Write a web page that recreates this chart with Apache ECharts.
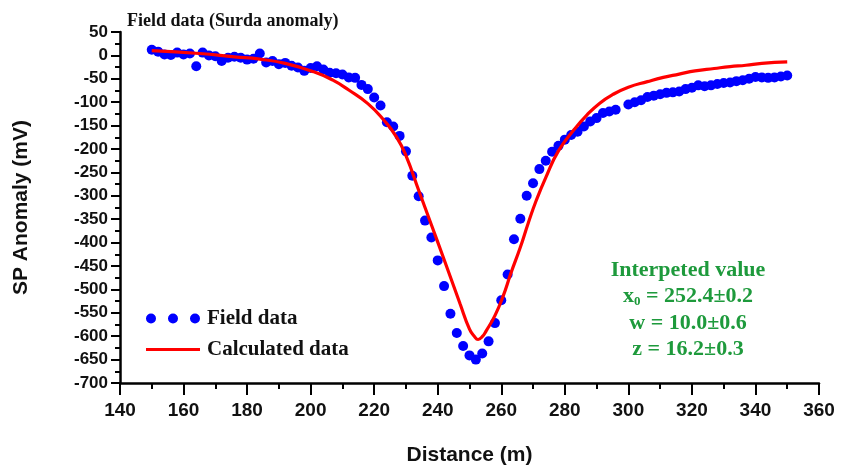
<!DOCTYPE html>
<html>
<head>
<meta charset="utf-8">
<script src="https://cdn.jsdelivr.net/npm/echarts@6/dist/echarts.min.js"></script>
<style>html,body{margin:0;padding:0;background:#fff}#c{width:843px;height:473px}</style>
</head>
<body>
<div id="c"></div>
<script>
// Field data (Surda anomaly)
const fieldX = [150,152,154,156,158,160,162,164,166,168,170,172,174,176,178,180,182,184,186,188,
  190,192,194,196,198,200,202,204,206,208,210,212,214,216,218,220,222,224,226,228,
  230,232,234,236,238,240,242,244,246,248,250,252,254,256,258,260,262,264,266,268,
  270,272,274,276,278,280,282,284,286,288,290,292,294,296,300,302,304,306,308,310,
  312,314,316,318,320,322,324,326,328,330,332,334,336,338,340,342,344,346,348,350];
const fieldY = [12,8,2,1,6,2,4,-23,6,0,-2,-12,-5,-3,-5,-9,-7,4,-15,-12,
  -19,-16,-22,-26,-33,-27,-23,-30,-37,-38,-41,-47,-48,-63,-72,-90,-107,-143,-152,-172,
  -205,-257,-301,-353,-389,-438,-493,-552,-593,-621,-641,-650,-637,-611,-572,-523,-468,-393,-349,-300,
  -273,-243,-225,-206,-193,-180,-170,-163,-152,-141,-134,-123,-120,-116,-105,-100,-96,-89,-86,-83,
  -80,-79,-77,-72,-69,-64,-66,-64,-61,-59,-58,-55,-53,-50,-46,-47,-48,-47,-45,-43];
// Calculated data
const calcX = [150,165,176,184,192,201,207,212,218,223,227,230,234,238,242,247,250,251.5,252.7,254,
  255.3,258,260.5,263,266,268.5,271,274,278,283,287,291,295,300,306,311,316,321,327,332,337,342,350];
const calcY = [10,4,-3,-8,-17,-35,-53,-74,-103,-138,-174,-214,-288,-362,-436,-530,-585,-600,-607,-601,
  -588,-556,-516,-466,-410,-358,-310,-261,-204,-158,-127,-102,-84,-68,-56,-47,-40,-33,-28,-24,-21,-17,-14];
const xTicks = {min:140, max:360, interval:20};
const yTicks = {min:-700, max:50, interval:50};
const infoLines = ['Interpeted value','x{s|0} = 252.4±0.2','w = 10.0±0.6','z = 16.2±0.3'];

const chart = echarts.init(document.getElementById('c'));
const sans = 'Liberation Sans, Arial, sans-serif';
const serif = 'Liberation Serif, Times New Roman, serif';
const green = '#1e9a3c';
const dotsIcon = 'path://M0,5a5,5 0 1,0 10,0a5,5 0 1,0 -10,0ZM22,5a5,5 0 1,0 10,0a5,5 0 1,0 -10,0ZM44,5a5,5 0 1,0 10,0a5,5 0 1,0 -10,0Z';
const lineIcon = 'path://M0,0h54v3h-54Z';
const tys = [270,296,323,349];
chart.setOption({
  animation:false,
  title:{text:'Field data (Surda anomaly)', left:122, top:7,
    textStyle:{fontFamily:serif, fontWeight:'bold', fontSize:18, color:'#111'}},
  grid:{left:120, right:24, top:32, bottom:90, containLabel:false},
  legend:{orient:'vertical', left:141, top:303, itemGap:10, itemWidth:54, itemHeight:10,
    textStyle:{fontFamily:serif, fontWeight:'bold', fontSize:21, color:'#111', padding:[0,0,0,2]},
    data:[{name:'Field data', icon:dotsIcon},{name:'Calculated data', icon:lineIcon, itemStyle:{color:'#ff0000'}}]},
  xAxis:{type:'value', min:xTicks.min, max:xTicks.max, interval:xTicks.interval,
    name:'Distance (m)', nameLocation:'middle', nameGap:62,
    nameTextStyle:{fontFamily:sans, fontWeight:'bold', fontSize:21, color:'#111'},
    axisLine:{onZero:false, lineStyle:{color:'#000', width:2.5}},
    axisTick:{inside:false, length:12, lineStyle:{color:'#000', width:2}},
    minorTick:{show:true, splitNumber:2, length:6, lineStyle:{color:'#000', width:2}},
    axisLabel:{margin:18, fontFamily:sans, fontWeight:'bold', fontSize:19, color:'#111'},
    splitLine:{show:false}},
  yAxis:{type:'value', min:yTicks.min, max:yTicks.max, interval:yTicks.interval,
    name:'SP Anomaly (mV)', nameLocation:'middle', nameGap:88, nameRotate:90,
    nameTextStyle:{fontFamily:sans, fontWeight:'bold', fontSize:21, color:'#111'},
    axisLine:{onZero:false, lineStyle:{color:'#000', width:2.5}},
    axisTick:{inside:false, length:9, lineStyle:{color:'#000', width:2}},
    minorTick:{show:true, splitNumber:2, length:5, lineStyle:{color:'#000', width:2}},
    axisLabel:{margin:12, fontFamily:sans, fontWeight:'bold', fontSize:17, color:'#111'},
    splitLine:{show:false}},
  graphic: infoLines.map((t,i)=>({type:'text', x:688, y:tys[i],
    style:{text:t, align:'center', verticalAlign:'middle', fill:green,
      font:'bold 22px ' + serif,
      rich:{s:{fontSize:13, fontWeight:'bold', fontFamily:serif, fill:green, padding:[12,0,0,0]}}}})),
  series:[
    {name:'Field data', type:'scatter', symbol:'circle', symbolSize:10, z:2,
      itemStyle:{color:'#0000ff', opacity:1},
      data: fieldX.map((x,i)=>[x, fieldY[i]])},
    {name:'Calculated data', type:'line', smooth:0.5, showSymbol:false, symbol:'none', z:3,
      lineStyle:{color:'#ff0000', width:3.2}, itemStyle:{color:'#ff0000'},
      data: calcX.map((x,i)=>[x, calcY[i]])}
  ]
});
</script>
</body>
</html>
